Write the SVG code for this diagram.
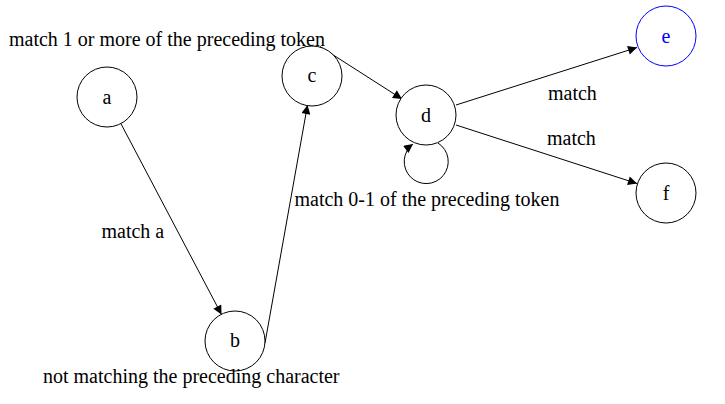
<svg xmlns="http://www.w3.org/2000/svg" width="725" height="404" viewBox="0 0 725 404">
<style>
.node circle{fill:#fff;stroke:#000;stroke-width:1}
text{font-family:"Liberation Serif","Times New Roman",serif;font-size:20px;fill:#000}
.node text{text-anchor:middle}
.edge{fill:none;stroke:#000;stroke-width:1;marker-end:url(#arr)}
</style>
<defs>
<marker id="arr" viewBox="0 0 10 10" refX="10" refY="5" markerWidth="11" markerHeight="9" markerUnits="userSpaceOnUse" orient="auto">
<path d="M0,0 L10,5 L0,10 z" fill="#000"/>
</marker>
</defs>
<rect width="725" height="404" fill="#fff"/>
<g id="connectors">
<path class="edge" d="M120.9,123.6 L221.5,314.5"/>
<path class="edge" d="M265,343 L307.5,105"/>
<path class="edge" d="M320,46.5 L402,99"/>
<path class="edge" d="M456,105 L637,47.5"/>
<path class="edge" d="M456,125 L637,183.5"/>
<path class="edge" d="M438,143 A22 22 0 1 1 413,144"/>
</g>
<g id="node-a" class="node"><circle cx="107" cy="97" r="30"/><text x="107" y="103.5">a</text></g>
<g id="node-b" class="node"><circle cx="235" cy="341" r="30"/><text x="235" y="347">b</text></g>
<g id="node-c" class="node"><circle cx="312" cy="76" r="30"/><text x="312" y="82">c</text></g>
<g id="node-d" class="node"><circle cx="426" cy="115" r="30"/><text x="426" y="121.5">d</text></g>
<g id="node-e" class="node"><circle cx="666" cy="36" r="30" style="stroke:#00f"/><text x="666" y="42.5" style="fill:#00f">e</text></g>
<g id="node-f" class="node"><circle cx="666" cy="193" r="30"/><text x="666" y="200">f</text></g>
<g id="labels">
<text x="9" y="45.5">match 1 or more of the preceding token</text>
<text x="101.5" y="237.5">match a</text>
<text x="294.5" y="205.5">match 0-1 of the preceding token</text>
<text x="43" y="383">not matching the preceding character</text>
<text x="548" y="100">match</text>
<text x="547" y="145">match</text>
</g>
</svg>
